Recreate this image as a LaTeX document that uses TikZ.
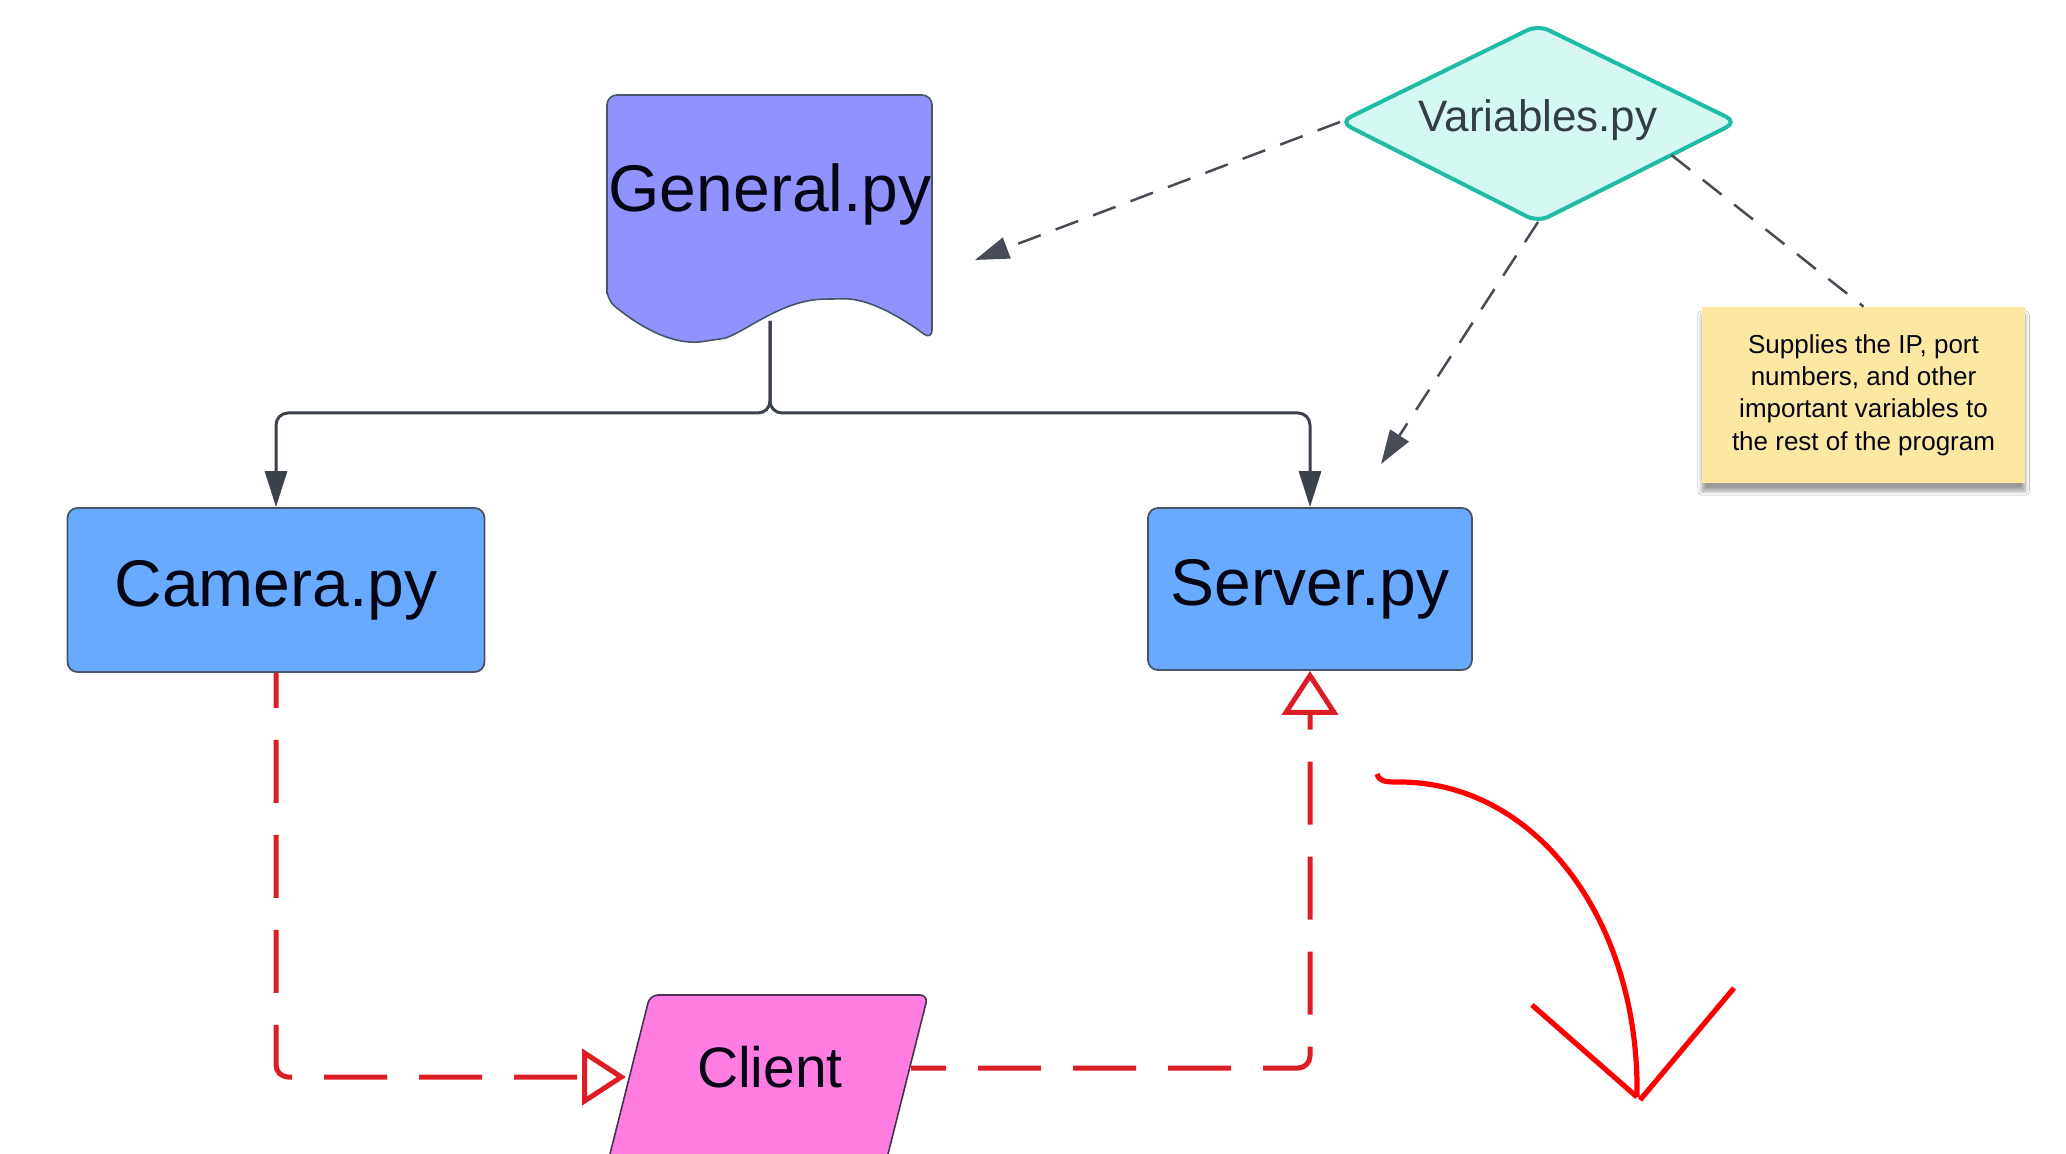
\documentclass[tikz,border=0pt]{standalone}
\usepackage{fontspec}
\setmainfont{Liberation Sans}
\usetikzlibrary{arrows.meta,shadows.blur,calc}

\definecolor{docfill}{RGB}{146,146,255}
\definecolor{boxfill}{RGB}{104,170,255}
\definecolor{boxline}{RGB}{72,84,104}
\definecolor{clientfill}{RGB}{255,125,225}
\definecolor{clientline}{RGB}{70,50,80}
\definecolor{mint}{RGB}{214,248,242}
\definecolor{tealline}{RGB}{30,188,164}
\definecolor{vartext}{RGB}{52,62,70}
\definecolor{notefill}{RGB}{252,232,162}
\definecolor{flowgray}{RGB}{60,66,76}
\definecolor{hintgray}{RGB}{72,76,86}
\definecolor{linkred}{RGB}{220,30,36}
\definecolor{pen}{RGB}{255,0,0}
\definecolor{inkblack}{RGB}{5,5,20}

\tikzset{
  pybox/.style={draw=boxline, line width=0.9pt, fill=boxfill, rounded corners=5pt,
    inner sep=0pt, font=\fontsize{33}{40}\selectfont, text=inkblack},
  flow/.style={draw=flowgray, line width=1.5pt, rounded corners=6pt,
    -{Triangle[length=18pt,width=11pt]}},
  hint/.style={draw=hintgray, line width=1.25pt, dash pattern=on 12pt off 8pt},
  hintarrow/.style={hint, -{Triangle[length=17pt,width=11pt]}},
  link/.style={draw=linkred, line width=2.5pt, dash pattern=on 31.5pt off 16pt,
    dash phase=14pt, rounded corners=6pt,
    -{Triangle[open,length=22pt,width=28pt]}},
  scribble/.style={draw=pen, line width=2.6pt},
}

\begin{document}
\begin{tikzpicture}[x={(0.5pt,0pt)}, y={(0pt,-0.5pt)}]
\useasboundingbox (0,0) rectangle (2066,1154);
\fill[white] (0,0) rectangle (2066,1154);
\clip (0,0) rectangle (2066,1154);

% General.py document shape
\path[draw=boxline, line width=0.8pt, fill=docfill, rounded corners=5pt]
  (607,300) -- (607,95) -- (932,95) -- (932,340)
  .. controls (905,320) and (870,298) .. (833,299)
  .. controls (780,300) and (740,336) .. (713,340)
  .. controls (680,345) and (650,335) .. (607,300) -- cycle;
\node[font=\fontsize{33}{40}\selectfont, text=inkblack, anchor=base] (gen) at (770,212) {General.py};
\coordinate (genb) at (770,321);
\coordinate (split) at (770,413);

% Module boxes
\node[pybox, minimum width=208.5pt, minimum height=82pt] (cam) at (276,590) {Camera.py};
\node[pybox, minimum width=162pt, minimum height=81pt] (srv) at (1310,589) {Server.py};

% Client parallelogram
\path[draw=clientline, line width=0.8pt, fill=clientfill, rounded corners=4pt]
  (650,995) -- (928,995) -- (884,1170) -- (606,1170) -- cycle;
\node[font=\fontsize{28.5}{34}\selectfont, text=inkblack] (client) at (770,1067) {Client};
\coordinate (clientin) at (626,1077);
\coordinate (clientout) at (911,1068);

% Variables.py decision shape
\coordinate (varw) at (1340,122);
\coordinate (varn) at (1538,25);
\coordinate (vare) at (1737,122);
\coordinate (vars) at (1538,222);
\path[draw=tealline, line width=2pt, fill=mint, rounded corners=6pt]
  (varw) -- (varn) -- (vare) -- (vars) -- cycle;
\node[font=\fontsize{22}{26}\selectfont, text=vartext, anchor=base] (var) at (1538,132) {Variables.py};

% Sticky note
\node[fill=notefill, minimum width=161.5pt, minimum height=88pt, align=center,
  font=\fontsize{13}{16.2}\selectfont, text=inkblack,
  blur shadow={shadow xshift=0pt, shadow yshift=-4pt, shadow blur steps=6}]
  (note) at (1863.5,395)
  {Supplies the IP, port\\numbers, and other\\important variables to\\the rest of the program};

% Import hierarchy
\draw[flow] (genb) -- (split) -| (cam.north);
\draw[flow] (genb) -- (split) -| (srv.north);

% Shared settings
\coordinate (genhint) at (975,260);
\coordinate (srvhint) at (1381,464);
\coordinate (varse) at ($(vare)!0.33!(vars)$);
\draw[hintarrow] (varw) -- (genhint);
\draw[hintarrow] (vars) -- (srvhint);
\draw[hint] (varse) -- (note.north);

% Data flow through the client
\draw[link] (cam.south) |- (clientin);
\draw[link] (clientout) -| (srv.south);

% Hand-drawn arrow
\draw[scribble] (1377,774) .. controls (1379,781) and (1385,782) .. (1396,782)
  .. controls (1535,780) and (1640,920) .. (1637,1097);
\draw[scribble] (1532,1005) -- (1637,1097);
\draw[scribble] (1734,988) -- (1640,1100);
\end{tikzpicture}
\end{document}
